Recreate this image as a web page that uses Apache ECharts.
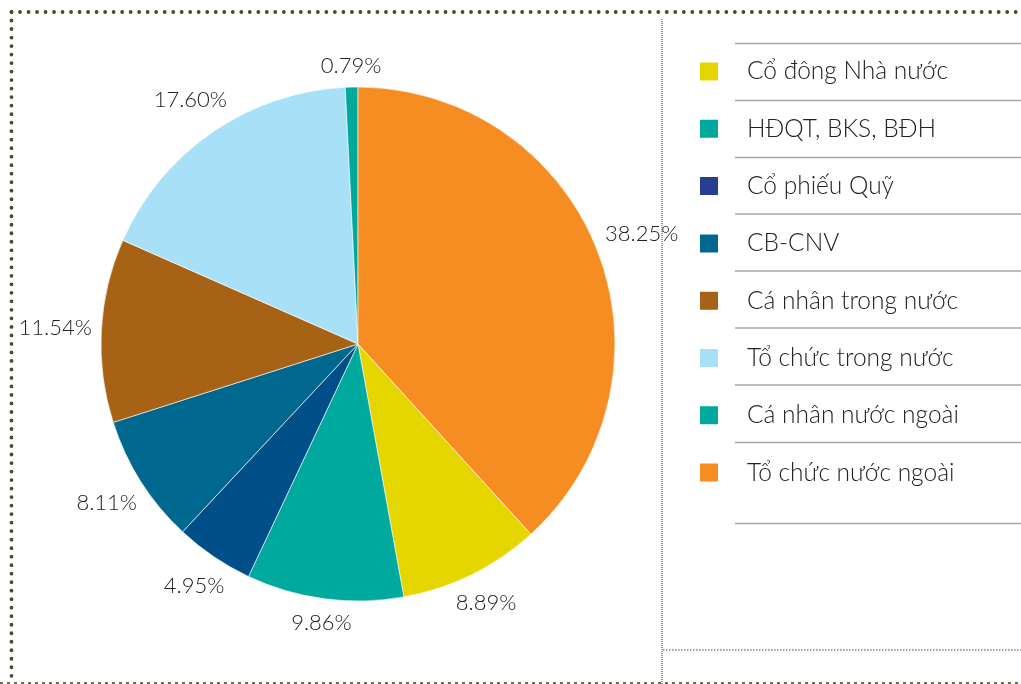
<!DOCTYPE html>
<html>
<head>
<meta charset="utf-8">
<script src="https://cdn.jsdelivr.net/npm/echarts@6/dist/echarts.min.js"></script>
<style>
  html, body { margin: 0; padding: 0; background: #fff; }
  #main { width: 1021px; height: 684px; }
</style>
</head>
<body>
<div id="main"></div>
<script>
// co cau co dong
var categories = ['Cổ đông Nhà nước', 'HĐQT, BKS, BĐH', 'Cổ phiếu Quỹ', 'CB-CNV',
    'Cá nhân trong nước', 'Tổ chức trong nước', 'Cá nhân nước ngoài', 'Tổ chức nước ngoài'];
var shares = [8.89, 9.86, 4.95, 8.11, 11.54, 17.60, 0.79, 38.25];
var sliceColors = ['#e6d600', '#00a99d', '#004f88', '#00688f', '#a86216', '#a8e0f8', '#00a99d', '#f68d22'];
var legendColors = ['#e6d600', '#00a99d', '#263f8f', '#006890', '#a86216', '#a8e0f8', '#00a99d', '#f68d22'];

var total = shares.reduce(function (a, b) { return a + b; }, 0);
// last slice (orange) ends at 12 o'clock
var startAngle = 90 - shares[shares.length - 1] / total * 360;

var pieData = categories.map(function (name, i) {
    return { name: name, value: shares[i], itemStyle: { color: sliceColors[i] } };
});
var legendData = categories.map(function (name, i) {
    return { name: name, itemStyle: { color: legendColors[i] } };
});

var FONT = 'Lato, "Open Sans", sans-serif';

// decoration: borders and legend rules
var graphics = [];
function dotLine(x1, y1, x2, y2, color, width, dash, cap) {
    graphics.push({
        type: 'line', silent: true,
        shape: { x1: x1, y1: y1, x2: x2, y2: y2 },
        style: { stroke: color, lineWidth: width, lineDash: dash, lineCap: cap || 'butt' }
    });
}
dotLine(11.5, 12, 1021, 12, '#3d5229', 3.8, [0.01, 8.5], 'round');
dotLine(11.5, 12, 11.5, 680, '#3d5229', 3.8, [0.01, 8.5], 'round');
dotLine(0, 683, 1021, 683, '#6e6e5c', 2, [3, 4]);
dotLine(662, 19, 662, 684, '#555', 1.2, [1, 1]);
dotLine(663, 650, 1021, 650, '#888', 1.5, [1.5, 1.5]);
var ruleY = [43.5, 100.5, 157.5, 214, 271, 328, 385, 442.5, 523.5];
ruleY.forEach(function (y) {
    dotLine(735, y, 1021, y, '#a6a6a6', 1.5, null);
});

var myChart = echarts.init(document.getElementById('main'));
var option = {
    animation: false,
    backgroundColor: '#fff',
    graphic: graphics,
    legend: {
        orient: 'vertical',
        left: 698,
        top: 59,
        padding: 0,
        itemWidth: 20,
        itemHeight: 20,
        itemGap: 32.3,
        icon: 'rect',
        selectedMode: false,
        data: legendData,
        textStyle: {
            fontFamily: FONT,
            fontSize: 24.5,
            fontWeight: 300,
            color: '#222',
            lineHeight: 24,
            padding: [0, 0, 0, 23]
        }
    },
    series: [
        {
            type: 'pie',
            center: [358, 344],
            radius: 257,
            startAngle: startAngle,
            clockwise: true,
            avoidLabelOverlap: false,
            data: pieData,
            itemStyle: { borderColor: '#fff', borderWidth: 0.6 },
            label: {
                show: true,
                position: 'outside',
                fontFamily: FONT,
                fontSize: 22,
                fontWeight: 300,
                color: '#222',
                formatter: function (p) { return p.value.toFixed(2) + '%'; }
            },
            labelLine: { show: true, length: 9, length2: 0, lineStyle: { opacity: 0 } },
            labelLayout: function (p) {
                var pts = p.labelLinePoints;
                if (!pts) return {};
                var dx = pts[1][0] - pts[0][0], dy = pts[1][1] - pts[0][1];
                var len = Math.sqrt(dx * dx + dy * dy) || 1;
                dx /= len; dy /= len;
                var push = Math.abs(dx) * p.labelRect.width / 2 + Math.abs(dy) * p.labelRect.height / 2;
                return {
                    x: pts[1][0] + dx * push,
                    y: pts[1][1] + dy * push,
                    align: 'center',
                    verticalAlign: 'middle'
                };
            },
            emphasis: { disabled: true }
        }
    ]
};
myChart.setOption(option);
</script>
</body>
</html>
